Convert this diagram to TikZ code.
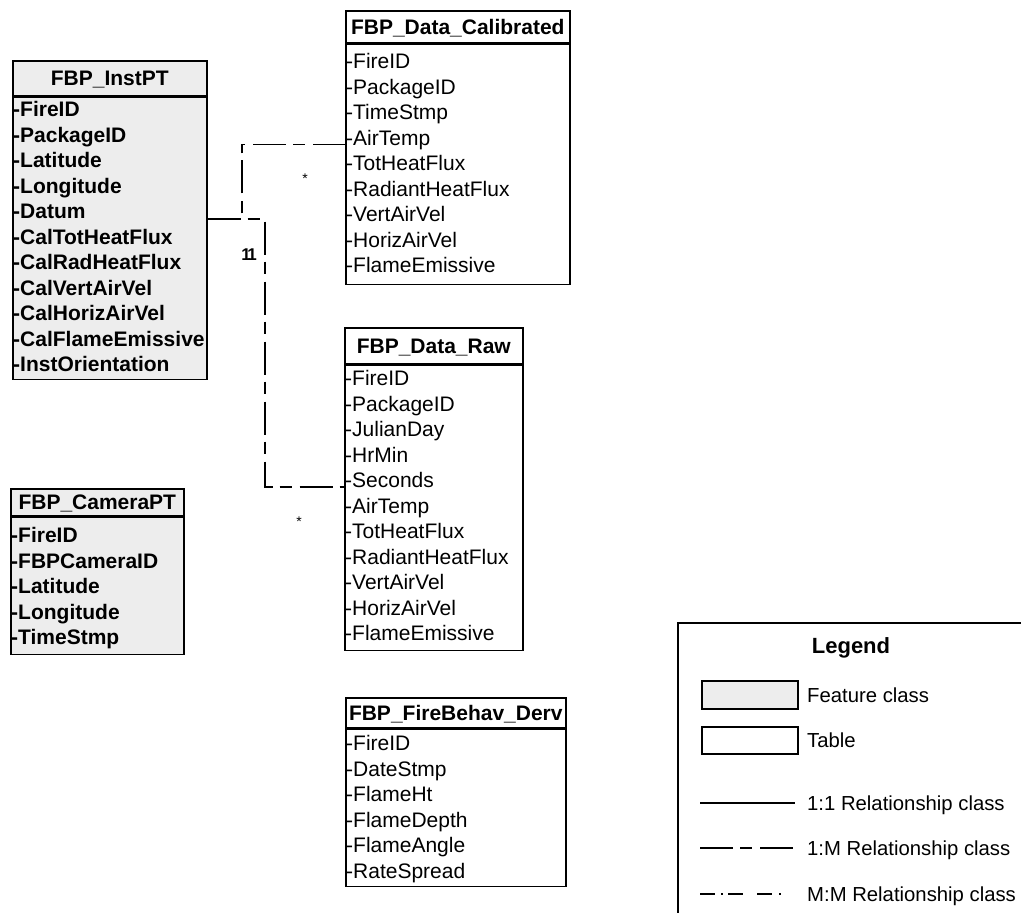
\documentclass[tikz,border=0pt]{standalone}
\usepackage{fontspec}
\setmainfont{Liberation Sans}
\usetikzlibrary{calc}

\newcommand\rowfnt{\fontsize{21}{25}\selectfont}
\newcommand\rowfntb{\fontsize{21}{25}\selectfont\bfseries}
\newcommand\keyfnt{\fontsize{20.3}{24}\selectfont}

\tikzset{
  box/.style={draw, line width=1.6pt, inner sep=0pt},
  feat/.style={box, fill=black!7},
  tab/.style={box, fill=white},
  head/.style={font=\rowfntb, text height=15pt, text depth=0pt},
  rowtxt/.style={anchor=west, inner sep=0pt, text height=15pt, text depth=0pt, font=\rowfnt},
  featrow/.style={rowtxt, font=\rowfntb},
  onemany/.style={line width=1.8pt, dash pattern=on 33pt off 7pt on 12pt off 8pt},
  oneone/.style={line width=1.8pt},
  manymany/.style={line width=1.8pt, dash pattern=on 15pt off 6pt on 2pt off 5pt on 15pt off 14pt on 15pt off 7pt on 2pt off 20pt},
  card/.style={inner sep=0pt, font=\fontsize{17}{17}\selectfont\bfseries},
  many/.style={inner sep=0pt, font=\fontsize{14}{14}\selectfont},
  legtxt/.style={anchor=west, inner sep=0pt, text height=15pt, text depth=0pt, font=\keyfnt},
}

\begin{document}
\begin{tikzpicture}[x=1pt, y=-1pt]
\useasboundingbox (0,0) rectangle (1021,913);
\clip (0,0) rectangle (1021,913);
\fill[white] (0,0) rectangle (1021,913);

% ---------- FBP_InstPT (feature class)
\node[feat, head, minimum width=194pt, minimum height=35pt, anchor=north west] (inst) at (12,60) {FBP\_InstPT};
\node[feat, minimum width=194pt, minimum height=282pt, anchor=north] (inst-body) at (inst.south) {};
\foreach \t [count=\i] in {FireID,PackageID,Latitude,Longitude,Datum,CalTotHeatFlux,CalRadHeatFlux,CalVertAirVel,CalHorizAirVel,CalFlameEmissive,InstOrientation}
  \node[featrow] (inst-\i) at (13,{109+(\i-1)*25.5}) {-\t};

% ---------- FBP_Data_Calibrated (table)
\node[tab, head, minimum width=224pt, minimum height=32pt, anchor=north west] (cal) at (345,10) {FBP\_Data\_Calibrated};
\node[tab, minimum width=224pt, minimum height=240pt, anchor=north] (cal-body) at (cal.south) {};
\foreach \t [count=\i] in {FireID,PackageID,TimeStmp,AirTemp,TotHeatFlux,RadiantHeatFlux,VertAirVel,HorizAirVel,FlameEmissive}
  \node[rowtxt] (cal-\i) at (346,{61+(\i-1)*25.5}) {-\t};

% ---------- FBP_Data_Raw (table)
\node[tab, head, minimum width=178pt, minimum height=36pt, anchor=north west] (raw) at (344,327) {FBP\_Data\_Raw};
\node[tab, minimum width=178pt, minimum height=285pt, anchor=north] (raw-body) at (raw.south) {};
\foreach \t [count=\i] in {FireID,PackageID,JulianDay,HrMin,Seconds,AirTemp,TotHeatFlux,RadiantHeatFlux,VertAirVel,HorizAirVel,FlameEmissive}
  \node[rowtxt] (raw-\i) at (345,{378+(\i-1)*25.5}) {-\t};

% ---------- FBP_CameraPT (feature class)
\node[feat, head, minimum width=173pt, minimum height=27pt, anchor=north west] (cam) at (10,488) {FBP\_CameraPT};
\node[feat, minimum width=173pt, minimum height=137pt, anchor=north] (cam-body) at (cam.south) {};
\foreach \t [count=\i] in {FireID,FBPCameraID,Latitude,Longitude,TimeStmp}
  \node[featrow] (cam-\i) at (11,{535+(\i-1)*25.5}) {-\t};

% ---------- FBP_FireBehav_Derv (table)
\node[tab, head, minimum width=220pt, minimum height=30pt, anchor=north west] (fbd) at (345,697) {FBP\_FireBehav\_Derv};
\node[tab, minimum width=220pt, minimum height=157pt, anchor=north] (fbd-body) at (fbd.south) {};
\foreach \t [count=\i] in {FireID,DateStmp,FlameHt,FlameDepth,FlameAngle,RateSpread}
  \node[rowtxt] (fbd-\i) at (346,{743+(\i-1)*25.6}) {-\t};

% ---------- relationship classes (1:M)
\coordinate (inst-port) at ($(inst-body.east |- inst-5.west)+(0,8)$);
\coordinate (cal-port) at ($(cal-body.west |- cal-4.west)+(0,7)$);
\coordinate (raw-port) at ($(raw-body.west |- raw-5.west)+(0,7)$);
\draw[onemany] (inst-port) -| ([xshift=-103pt]cal-port) -- (cal-port);
\draw[onemany] (inst-port) -| ([xshift=-79pt]raw-port) -- (raw-port);

% cardinalities
\node[card] (cal-one) at (246,255) {1};
\node[card] (raw-one) at (252,255) {1};
\node[many] (cal-many) at (305,179) {*};
\node[many] (raw-many) at (299,522) {*};

% ---------- legend
\node[box, minimum width=380pt, minimum height=320pt, anchor=north west] (legend) at (677,622) {};
\node[inner sep=0pt, text height=16pt, text depth=0pt, font=\fontsize{22}{22}\selectfont\bfseries] (legend-title) at (851,645) {Legend};
\node[feat, minimum width=96pt, minimum height=28pt, anchor=north west] (key-feat) at (701,680) {};
\node[legtxt] (key-feat-txt) at (807,695) {Feature class};
\node[tab, minimum width=96pt, minimum height=27pt, anchor=north west] (key-tab) at (701,726) {};
\node[legtxt] (key-tab-txt) at (807,740) {Table};
\node[legtxt] (key-11-txt) at (807,803) {1:1 Relationship class};
\node[legtxt] (key-1m-txt) at (807,848) {1:M Relationship class};
\node[legtxt] (key-mm-txt) at (807,894) {M:M Relationship class};
\draw[oneone] ([xshift=-107pt]key-11-txt.west) -- ([xshift=-12pt]key-11-txt.west);
\draw[onemany] ([xshift=-107pt]key-1m-txt.west) -- ([xshift=-12pt]key-1m-txt.west);
\draw[manymany] ([xshift=-107pt]key-mm-txt.west) -- ([xshift=-25pt]key-mm-txt.west);
\end{tikzpicture}
\end{document}
